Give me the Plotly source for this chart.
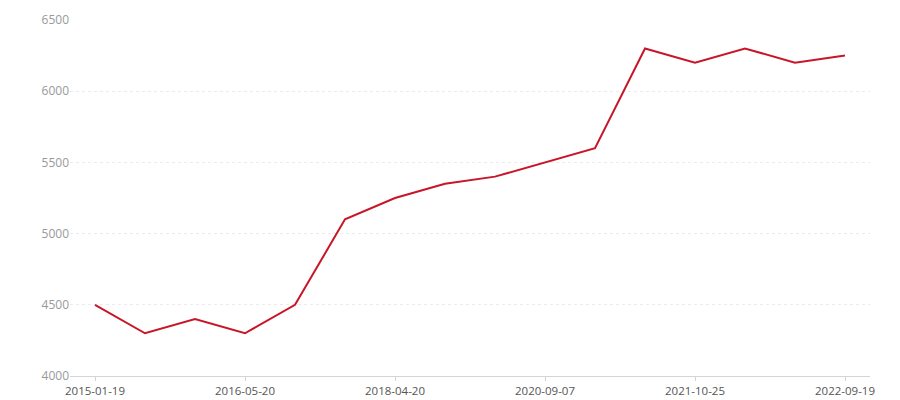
import plotly.graph_objects as go

dates = ["2015-01-19", "2015-06-15", "2015-11-16", "2016-05-20", "2016-12-12",
         "2017-08-21", "2018-04-20", "2018-12-17", "2019-09-09", "2020-09-07",
         "2021-01-18", "2021-06-21", "2021-10-25", "2022-02-21", "2022-06-20",
         "2022-09-19"]
values = [4500, 4300, 4400, 4300, 4500, 5100, 5250, 5350, 5400, 5500,
          5600, 6300, 6200, 6300, 6200, 6250]
y_ticks = [4000, 4500, 5000, 5500, 6000, 6500]

fig = go.Figure(go.Scatter(
    x=dates, y=values, mode="lines",
    line=dict(color="#c81528", width=2),
))

fig.update_layout(
    width=900, height=400,
    margin=dict(l=70, r=30, t=20, b=24),
    paper_bgcolor="white", plot_bgcolor="white",
    showlegend=False,
    font=dict(family="Open Sans, Noto Sans, sans-serif", size=12),
)
fig.update_xaxes(
    type="category", range=[-0.5, len(dates) - 0.5],
    tickmode="array", tickvals=dates[::3], ticktext=dates[::3],
    showgrid=False, showline=True, linecolor="#d4d4d4", linewidth=1,
    ticks="outside", ticklen=4, tickcolor="#d4d4d4",
    tickfont=dict(color="#555555", size=11.5), automargin=False,
)
fig.update_yaxes(
    range=[4000, 6500], tickmode="array", tickvals=y_ticks,
    showgrid=True, gridcolor="#ebebeb", griddash="dot", gridwidth=1,
    zeroline=False, showline=False, ticks="", ticklen=8,
    tickfont=dict(color="#999999", size=12), automargin=False,
)

fig.write_html(
    "out.html",
    config={"displayModeBar": False},
    post_script="document.body.style.margin='0';document.body.style.overflow='hidden';",
)
